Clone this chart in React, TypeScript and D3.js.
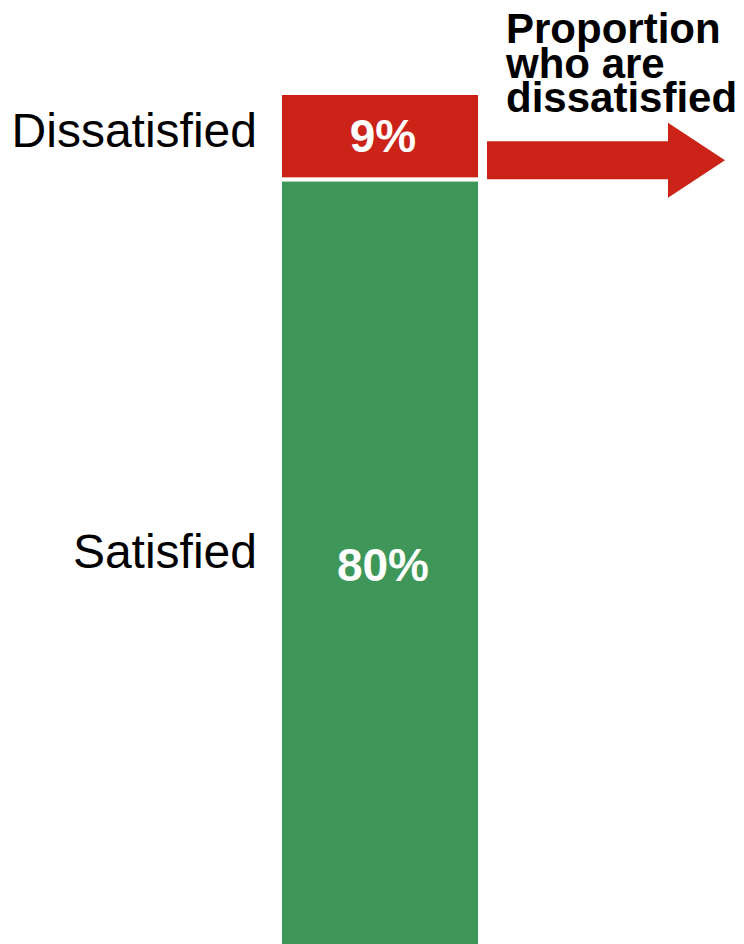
import React from "react";
import * as d3 from "d3";

const categories = ["Satisfied", "Dissatisfied"];
const values = [80, 9];
const valueLabels = ["80%", "9%"];
const colors = ["#3e9758", "#cb2317"];
const calloutLines = ["Proportion", "who are", "dissatisfied"];

const W = 744;
const H = 944;

export default function App() {
  const y = d3.scaleLinear().domain([0, d3.sum(values)]).range([947, 93]);
  const x = d3.scaleBand().domain(["bar"]).range([280, 480]).padding(0);
  const row: Record<string, number> = {};
  categories.forEach((c, i) => (row[c] = values[i]));
  const series = d3.stack<Record<string, number>>().keys(categories)([row]);
  const bx = x("bar") as number;
  const bw = x.bandwidth();

  const top = y(values[0] + values[1]);
  const redMid = (y(values[0]) + top) / 2;
  const arrowY = redMid + 24;
  const arrowPath = d3.path();
  const sx0 = 487, sx1 = 668, tip = 725;
  const sh = 19, hh = 37.5;
  arrowPath.moveTo(sx0, arrowY - sh);
  arrowPath.lineTo(sx1, arrowY - sh);
  arrowPath.lineTo(sx1, arrowY - hh);
  arrowPath.lineTo(tip, arrowY);
  arrowPath.lineTo(sx1, arrowY + hh);
  arrowPath.lineTo(sx1, arrowY + sh);
  arrowPath.lineTo(sx0, arrowY + sh);
  arrowPath.closePath();

  return (
    <svg width={W} height={H} style={{ position: "absolute", left: 0, top: 0, display: "block" }}
      fontFamily="'Liberation Sans', Arial, sans-serif">
      <rect width={W} height={H} fill="#fff" />
      {series.map((s, i) => {
        const d = s[0];
        const y0 = y(d[1]);
        const y1 = y(d[0]);
        const mid = (y0 + y1) / 2;
        const labelMid = i === 0 ? 565 : mid;
        return (
          <g key={s.key}>
            <rect x={bx} y={y0} width={bw} height={y1 - y0} fill={colors[i]} stroke="#fff" strokeWidth={4} />
            <text x={bx + bw / 2 + 3} y={labelMid + 16} textAnchor="middle" fill="#fff" fontWeight="bold" fontSize={46}>
              {valueLabels[i]}
            </text>
            <text x={257} y={labelMid + (i === 0 ? 3 : 11)} textAnchor="end" fill="#000" fontSize={48}>
              {s.key}
            </text>
          </g>
        );
      })}
      <path d={arrowPath.toString()} fill={colors[1]} />
      {calloutLines.map((t, i) => (
        <text key={t} x={506} y={43 + i * 34.5} fontWeight="bold" fontSize={42} fill="#000">
          {t}
        </text>
      ))}
    </svg>
  );
}
